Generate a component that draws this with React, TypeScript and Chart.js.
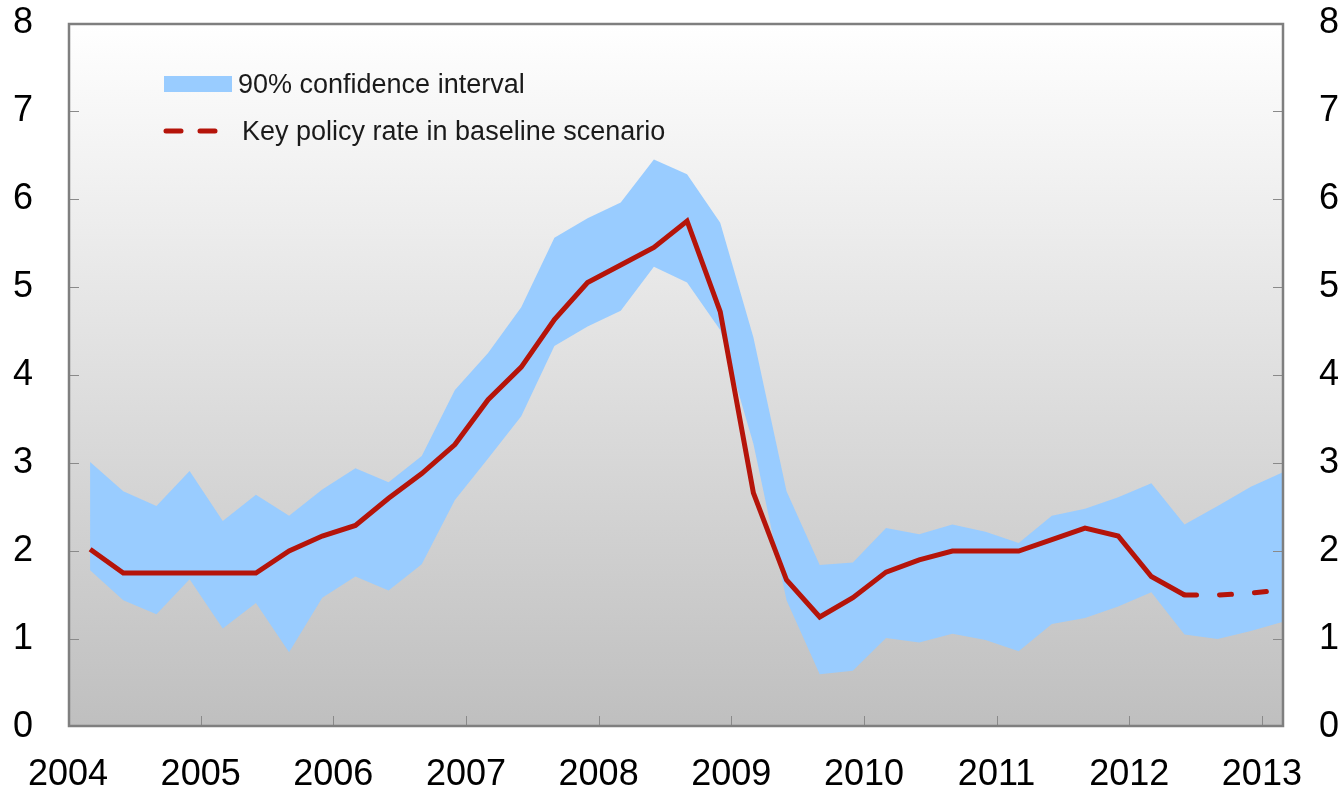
import React, { useEffect, useRef } from "react";
import { Chart, registerables } from "chart.js";

Chart.register(...registerables);

// Quarterly observations (month of observation)
const quarterDates = [
  "2004-03", "2004-06", "2004-09", "2004-12",
  "2005-03", "2005-06", "2005-09", "2005-12",
  "2006-03", "2006-06", "2006-09", "2006-12",
  "2007-03", "2007-06", "2007-09", "2007-12",
  "2008-03", "2008-06", "2008-09", "2008-12",
  "2009-03", "2009-06", "2009-09", "2009-12",
  "2010-03", "2010-06", "2010-09", "2010-12",
  "2011-03", "2011-06", "2011-09", "2011-12",
  "2012-03", "2012-06", "2012-09", "2012-12",
  "2013-03",
];

const policyRate = [
  2.02, 1.75, 1.75, 1.75, 1.75, 1.75, 2.0, 2.17, 2.29, 2.6, 2.88, 3.21,
  3.72, 4.09, 4.63, 5.05, 5.25, 5.45, 5.75, 4.72, 2.66, 1.67, 1.25, 1.47,
  1.76, 1.9, 2.0, 2.0, 2.0, 2.13, 2.26, 2.17, 1.71, 1.5, 1.5, 1.52, 1.56,
];

const upperBand = [
  3.01, 2.68, 2.51, 2.91, 2.34, 2.64, 2.4, 2.7, 2.94, 2.78, 3.08, 3.83,
  4.25, 4.77, 5.56, 5.78, 5.96, 6.45, 6.28, 5.73, 4.43, 2.68, 1.84, 1.87,
  2.26, 2.19, 2.3, 2.22, 2.09, 2.4, 2.48, 2.61, 2.77, 2.3, 2.51, 2.73, 2.9,
];

const lowerBand = [
  1.78, 1.44, 1.28, 1.68, 1.12, 1.41, 0.85, 1.47, 1.71, 1.55, 1.85, 2.58,
  3.05, 3.53, 4.33, 4.55, 4.73, 5.23, 5.05, 4.51, 3.22, 1.44, 0.6, 0.64,
  1.01, 0.96, 1.06, 0.99, 0.86, 1.17, 1.24, 1.37, 1.53, 1.05, 1.0, 1.09, 1.2,
];

const forecastStartIndex = 33; // dashed line from 2012-06 onwards

const yearTicks = [2004, 2005, 2006, 2007, 2008, 2009, 2010, 2011, 2012, 2013];
const rateTicks = [0, 1, 2, 3, 4, 5, 6, 7, 8];

const bandLabel = "90% confidence interval";
const rateLabel = "Key policy rate in baseline scenario";

const BLUE = "#99ccff";
const RED = "#b5140a";
const FRAME = "#7f7f7f";
const FONT = "'Liberation Sans', Arial, sans-serif";

function dateToX(d: string): number {
  const [y, m] = d.split("-").map(Number);
  return y + (m - 1) / 12;
}

const xs = quarterDates.map(dateToX);
const pts = (vals: number[], from = 0, to = vals.length - 1) =>
  vals.slice(from, to + 1).map((v, i) => ({ x: xs[from + i], y: v }));

const bgPlugin = {
  id: "bgGradient",
  beforeDatasetsDraw(chart: any) {
    const { ctx, chartArea: a } = chart;
    const g = ctx.createLinearGradient(0, a.top, 0, a.bottom);
    g.addColorStop(0, "#ffffff");
    g.addColorStop(1, "#bfbfbf");
    ctx.save();
    ctx.fillStyle = g;
    ctx.fillRect(a.left, a.top, a.right - a.left, a.bottom - a.top);
    ctx.restore();
  },
};

const frameAndTicksPlugin = {
  id: "frameTicks",
  afterDatasetsDraw(chart: any) {
    const { ctx, chartArea: a, scales } = chart;
    ctx.save();
    ctx.strokeStyle = "#8a8a8a";
    ctx.lineWidth = 1;
    const xs2 = scales.x;
    xs2.ticks.forEach((t: any) => {
      const px = Math.round(xs2.getPixelForValue(t.value)) + 0.5;
      if (px <= a.left + 2 || px >= a.right - 2) return;
      ctx.beginPath();
      ctx.moveTo(px, a.bottom);
      ctx.lineTo(px, a.bottom - 11);
      ctx.stroke();
    });
    const ys = scales.y;
    ys.ticks.forEach((t: any) => {
      const py = Math.round(ys.getPixelForValue(t.value)) + 0.5;
      if (py <= a.top + 2 || py >= a.bottom - 2) return;
      ctx.beginPath();
      ctx.moveTo(a.left, py);
      ctx.lineTo(a.left + 11, py);
      ctx.moveTo(a.right, py);
      ctx.lineTo(a.right - 11, py);
      ctx.stroke();
    });
    ctx.strokeStyle = FRAME;
    ctx.lineWidth = 2.5;
    ctx.strokeRect(a.left + 1, a.top + 1, a.right - a.left - 2, a.bottom - a.top - 2);
    ctx.restore();
  },
};

const legendPlugin = {
  id: "insideLegend",
  afterDraw(chart: any) {
    const { ctx, chartArea: a } = chart;
    const lx = a.left + 96;
    ctx.save();
    ctx.fillStyle = BLUE;
    ctx.fillRect(lx, a.top + 53, 68, 16);
    ctx.font = `27px ${FONT}`;
    ctx.fillStyle = "#1a1a1a";
    ctx.textBaseline = "alphabetic";
    ctx.textAlign = "left";
    ctx.fillText(chart.data.datasets[2].label, lx + 74, a.top + 70);

    ctx.strokeStyle = RED;
    ctx.lineWidth = 5;
    ctx.lineCap = "round";
    const ly = a.top + 108;
    ctx.beginPath();
    ctx.moveTo(lx + 2, ly);
    ctx.lineTo(lx + 17, ly);
    ctx.moveTo(lx + 36, ly);
    ctx.lineTo(lx + 51, ly);
    ctx.stroke();
    ctx.fillText(chart.data.datasets[1].label, lx + 78, a.top + 117);
    ctx.restore();
  },
};

const noPad = (s: any) => {
  s.paddingTop = 0;
  s.paddingBottom = 0;
  s.paddingLeft = 0;
  s.paddingRight = 0;
};

export default function App() {
  const ref = useRef<HTMLCanvasElement | null>(null);

  useEffect(() => {
    document.body.style.margin = "0";
    const canvas = ref.current;
    if (!canvas) return;

    const tickFont = { family: FONT, size: 36 };

    const chart = new Chart(canvas, {
      type: "line",
      data: {
        datasets: [
          {
            label: "Key policy rate",
            data: pts(policyRate, 0, forecastStartIndex),
            borderColor: RED,
            borderWidth: 5,
            pointRadius: 0,
            fill: false,
            tension: 0,
            order: 0,
            borderJoinStyle: "miter",
          },
          {
            label: rateLabel,
            data: pts(policyRate, forecastStartIndex),
            borderColor: RED,
            borderWidth: 5,
            borderDash: [12, 23],
            borderCapStyle: "round",
            pointRadius: 0,
            fill: false,
            tension: 0,
            order: 0,
          },
          {
            label: bandLabel,
            data: pts(upperBand),
            borderWidth: 0,
            borderColor: BLUE,
            backgroundColor: BLUE,
            pointRadius: 0,
            fill: "+1",
            tension: 0,
            order: 2,
          },
          {
            label: "lower",
            data: pts(lowerBand),
            borderWidth: 0,
            borderColor: BLUE,
            pointRadius: 0,
            fill: false,
            tension: 0,
            order: 2,
          },
        ],
      } as any,
      options: {
        responsive: false,
        maintainAspectRatio: false,
        animation: false,
        parsing: false as any,
        layout: { padding: { top: 23, left: 0, right: 0, bottom: 0 } },
        plugins: {
          legend: { display: false },
          tooltip: { enabled: false },
        },
        scales: {
          x: {
            type: "linear",
            min: 2004,
            max: xs[xs.length - 1],
            grid: { display: false, drawTicks: false },
            border: { display: false },
            afterBuildTicks: (s: any) => {
              s.ticks = yearTicks.map((v) => ({ value: v }));
            },
            ticks: {
              font: tickFont,
              color: "#000",
              padding: 26,
              maxRotation: 0,
              autoSkip: false,
              callback: (v: any) => String(v),
            },
            afterFit: (s: any) => {
              s.height = 66;
              noPad(s);
            },
          },
          y: {
            type: "linear",
            position: "left",
            min: 0,
            max: 8,
            grid: { display: false, drawTicks: false },
            border: { display: false },
            afterBuildTicks: (s: any) => {
              s.ticks = rateTicks.map((v) => ({ value: v }));
            },
            ticks: { font: tickFont, color: "#000", padding: 35 },
            afterFit: (s: any) => {
              s.width = 68;
              noPad(s);
            },
          },
          y2: {
            type: "linear",
            position: "right",
            min: 0,
            max: 8,
            grid: { display: false, drawTicks: false },
            border: { display: false },
            afterBuildTicks: (s: any) => {
              s.ticks = rateTicks.map((v) => ({ value: v }));
            },
            ticks: { font: tickFont, color: "#000", padding: 35 },
            afterFit: (s: any) => {
              s.width = 57;
              noPad(s);
            },
          },
        },
      } as any,
      plugins: [bgPlugin, frameAndTicksPlugin, legendPlugin],
    });

    return () => chart.destroy();
  }, []);

  return (
    <div style={{ position: "absolute", left: 0, top: 0, width: 1341, height: 793 }}>
      <canvas ref={ref} width={1341} height={793} />
    </div>
  );
}
